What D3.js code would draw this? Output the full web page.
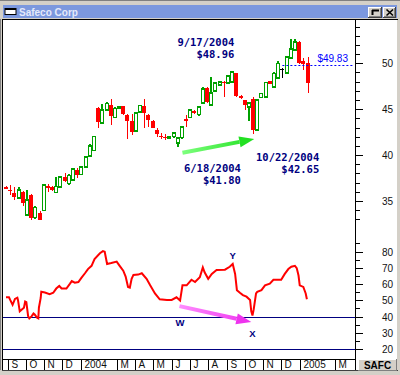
<!DOCTYPE html>
<html>
<head>
<meta charset="utf-8">
<script src="https://cdn.jsdelivr.net/npm/d3@7"></script>
<style>
html, body { margin: 0; padding: 0; background: #d4d0c8; }
svg { display: block; }
</style>
</head>
<body>
<svg id="chart" width="400" height="375"></svg>
<script>
// weekly bars, one per Friday, first one on this date
var firstBar = "2003-08-29";
var opens  = [36.5,36.2,35.9,35.3,36.0,33.5,35.7,33.2,33.7,33.95,36.6,36.5,35.95,36.5,37.6,36.9,37.3,38.4,37.9,38.7,39.9,40.5,45.1,43.5,44.9,45.5,44.1,45.1,45.3,44.4,43.7,42.6,44.7,45.3,44.4,43.7,42.7,42.1,42.0,41.85,42.0,41.3,41.9,43.9,44.1,44.8,44.4,45.7,47.3,45.45,47.0,47.65,48.0,47.85,47.95,48.9,46.45,46.0,45.25,46.1,42.75,46.3,46.35,48.05,47.4,48.4,49.3,48.95,50.6,51.45,52.3,50.2,50.0];
var highs  = [36.6,36.7,36.5,36.5,36.1,36.2,35.8,34.5,33.9,36.8,36.9,36.6,37.6,37.7,38.05,37.9,38.6,38.6,38.8,39.9,41.2,42.0,45.2,45.6,45.8,46.1,45.2,45.3,45.4,44.5,44.5,44.7,45.5,46.1,44.5,43.8,43.0,42.4,42.3,42.1,42.5,42.0,43.1,44.4,45.0,44.9,45.3,47.4,47.4,48.5,47.9,48.0,48.1,48.7,49.1,48.96,46.5,46.0,45.8,46.3,46.1,46.8,48.0,48.1,49.0,50.2,49.5,50.8,52.7,52.6,52.4,50.6,50.7];
var lows   = [36.3,35.6,35.1,35.2,34.45,33.4,32.95,33.0,32.9,33.9,36.0,36.1,35.9,36.4,37.1,36.75,37.2,37.5,37.8,38.6,39.8,40.4,42.9,43.4,44.8,43.3,44.0,45.0,44.4,41.75,42.2,42.5,44.6,42.95,43.05,42.9,41.95,41.8,41.6,41.8,41.9,40.9,41.8,43.1,44.0,44.5,44.3,45.6,45.7,45.3,46.9,47.6,46.3,47.8,47.9,46.3,46.1,44.9,43.75,42.3,42.65,46.2,46.3,47.7,47.3,48.3,48.4,48.9,50.5,51.4,49.9,49.3,46.8];
var closes = [36.35,36.1,35.4,36.2,34.8,35.1,33.2,34.3,32.95,36.75,36.5,36.2,36.6,37.6,37.2,37.8,38.5,37.8,38.7,39.8,41.0,42.0,43.6,44.9,45.6,44.3,45.1,45.25,44.5,43.7,42.55,44.6,45.4,44.55,43.8,42.95,42.3,42.0,41.95,42.05,42.4,41.85,43.05,43.8,44.9,44.6,45.25,47.2,45.8,46.75,47.85,47.95,47.8,48.6,49.05,46.4,46.2,45.5,45.65,42.75,46.0,46.7,47.9,47.75,48.9,50.0,49.3,50.7,51.55,52.3,50.0,49.9,47.85];
var lastPrice = 49.83;

// oscillator in the lower panel
var oscDates = ["2003-08-29","2003-09-03","2003-09-05","2003-09-09","2003-09-13","2003-09-17","2003-09-18","2003-09-21","2003-09-28","2003-09-30",
  "2003-10-02","2003-10-05","2003-10-07","2003-10-11","2003-10-14","2003-10-16","2003-10-20","2003-10-22","2003-10-23","2003-10-26",
  "2003-10-27","2003-11-02","2003-11-10","2003-11-16","2003-11-21","2003-11-26","2003-11-30","2003-12-08","2003-12-14","2003-12-17",
  "2003-12-22","2003-12-28","2004-01-02","2004-01-08","2004-01-13","2004-01-19","2004-01-24","2004-02-02","2004-02-07","2004-02-10",
  "2004-02-14","2004-02-21","2004-03-01","2004-03-06","2004-03-12","2004-03-16","2004-03-20","2004-03-23","2004-03-26","2004-03-29",
  "2004-04-06","2004-04-12","2004-04-20","2004-04-26","2004-05-04","2004-05-12","2004-05-24","2004-06-01","2004-06-09","2004-06-15",
  "2004-06-19","2004-06-26","2004-07-04","2004-07-10","2004-07-18","2004-07-23","2004-07-26","2004-08-01","2004-08-07","2004-08-15",
  "2004-08-29","2004-09-06","2004-09-11","2004-09-15","2004-09-18","2004-09-23","2004-09-28","2004-10-04","2004-10-10","2004-10-12",
  "2004-10-14","2004-10-16","2004-10-20","2004-10-22","2004-10-29","2004-11-04","2004-11-12","2004-11-18","2004-12-01","2004-12-07",
  "2004-12-13","2004-12-18","2004-12-24","2004-12-27","2004-12-30","2005-01-01","2005-01-07","2005-01-11","2005-01-13"];
var oscValues = [51.8,51.8,50.2,47.2,50.8,51.6,50.2,43.2,45.4,49.2,
  48.8,40.2,38.8,40.2,41.8,41.2,39.2,38.8,45.4,51.4,
  55.2,54.8,53.8,54.6,57.2,58.8,57.2,57.2,60.2,61.8,
  60.8,61.2,63.8,66.6,69.2,71.2,75.3,78.9,80.2,79.8,
  72.3,72.9,73.8,71.2,68.2,64.6,58.2,57.8,63.2,65.6,
  65.8,66.6,63.2,59.2,54.2,50.6,50.2,50.2,51.8,49.8,
  59.2,59.2,62.6,61.2,64.2,70.2,67.2,63.2,66.2,68.6,
  68.8,70.6,72.3,66.2,56.2,54.6,53.2,52.2,50.2,43.2,
  40.6,44.2,54.2,55.2,56.2,59.2,60.2,62.6,62.6,66.2,
  69.2,70.6,71.2,69.8,65.2,59.2,58.2,54.2,50.6];
var oscLines = [40, 20];

var monthDates  = ["2003-09-01","2003-10-01","2003-11-01","2003-12-01","2004-01-01","2004-03-01","2004-04-01","2004-05-01","2004-06-01","2004-07-01","2004-08-01","2004-09-01","2004-10-01","2004-11-01","2004-12-01","2005-01-01","2005-03-01"];
var monthLabels = ["S","O","N","D","2004","M","A","M","J","J","A","S","O","N","D","2005","M"];
var priceLabels = [35, 40, 45, 50];
var oscLabels   = [20, 30, 40, 50, 60, 70, 80];

var parse = d3.timeParse("%Y-%m-%d");
var start = parse(firstBar);
var bars = opens.map(function (o, i) {
    return { date: d3.timeDay.offset(start, 7 * i), o: o, h: highs[i], l: lows[i], c: closes[i] };
});
var osc = oscDates.map(function (d, i) { return { date: parse(d), v: oscValues[i] }; });

var W = 400, H = 375,
    plotLeft = 3, axisX = 355, plotTop = 20, stripTop = 359, bottom = 370;

var x = d3.scaleTime().domain([bars[0].date, bars[bars.length - 1].date]).range([6, 307.5]),
    y = d3.scaleLinear().domain([35, 50]).range([201, 63.3]),
    yo = d3.scaleLinear().domain([20, 40]).range([349, 316.5]);

var svg = d3.select("#chart");
var GREEN = "#00a000", RED = "#ff0000", NAVY = "#000080";

// ---- window frame ----
svg.append("rect").attr("width", W).attr("height", H).attr("fill", "#d4d0c8");
svg.append("rect").attr("x", 0).attr("y", 0).attr("width", W).attr("height", 1).attr("fill", "#808080");
svg.append("rect").attr("x", 3).attr("y", 5).attr("width", 394).attr("height", 13).attr("fill", "#7c98de");
svg.append("rect").attr("x", plotLeft).attr("y", plotTop).attr("width", 394).attr("height", bottom - plotTop).attr("fill", "#fff");
svg.append("rect").attr("x", 2).attr("y", 19).attr("width", 396).attr("height", 1).attr("fill", "#000");
svg.append("rect").attr("x", 2).attr("y", 19).attr("width", 1).attr("height", bottom - 19).attr("fill", "#000");
svg.append("rect").attr("x", 0).attr("y", 19).attr("width", 1).attr("height", bottom - 19).attr("fill", "#808080");
svg.append("rect").attr("x", 2).attr("y", bottom).attr("width", 396).attr("height", 1).attr("fill", "#404040");

// title bar icon, text and buttons
svg.append("rect").attr("x", 5).attr("y", 8.5).attr("width", 11).attr("height", 6).attr("fill", "#fff").attr("stroke", "#000");
svg.append("rect").attr("x", 5).attr("y", 8).attr("width", 11).attr("height", 2).attr("fill", "#000");
svg.append("text").attr("x", 19).attr("y", 15.5).text("Safeco Corp")
    .attr("font-family", "Liberation Sans, Arial, sans-serif").attr("font-weight", "bold")
    .attr("font-size", "10px").attr("fill", "#e4e9fa");

[[368, 14], [383, 13]].forEach(function (b) {
    var g = svg.append("g").attr("shape-rendering", "crispEdges");
    g.append("rect").attr("x", b[0]).attr("y", 7).attr("width", b[1]).attr("height", 11).attr("fill", "#404040");
    g.append("rect").attr("x", b[0]).attr("y", 7).attr("width", b[1] - 1).attr("height", 10).attr("fill", "#fff");
    g.append("rect").attr("x", b[0] + 1).attr("y", 8).attr("width", b[1] - 2).attr("height", 9).attr("fill", "#808080");
    g.append("rect").attr("x", b[0] + 1).attr("y", 8).attr("width", b[1] - 3).attr("height", 8).attr("fill", "#d4d0c8");
});
svg.append("path").attr("d", "M372,10.5H379M372.5,10V15").attr("stroke", "#000").attr("stroke-width", 2).attr("fill", "none");
svg.append("path").attr("d", "M386.5,9.5L393,15.5M393,9.5L386.5,15.5").attr("stroke", "#000").attr("stroke-width", 1.6);

// ---- plot clip ----
svg.append("clipPath").attr("id", "plot").append("rect")
    .attr("x", plotLeft).attr("y", plotTop).attr("width", axisX - plotLeft).attr("height", stripTop - plotTop);
var plot = svg.append("g").attr("clip-path", "url(#plot)");

// oscillator reference lines
plot.selectAll(".ref").data(oscLines).enter().append("line")
    .attr("x1", plotLeft).attr("x2", axisX)
    .attr("y1", function (d) { return Math.round(yo(d)) + 0.5; })
    .attr("y2", function (d) { return Math.round(yo(d)) + 0.5; })
    .attr("stroke", NAVY).attr("stroke-width", 1);

// candles
var cg = plot.append("g").attr("shape-rendering", "crispEdges");
bars.forEach(function (d) {
    var cx = Math.round(x(d.date)), top = Math.min(d.o, d.c), topY = y(Math.max(d.o, d.c)), botY = y(top);
    if (d.c > d.o) {
        cg.append("line").attr("x1", cx).attr("x2", cx).attr("y1", y(d.h)).attr("y2", topY)
            .attr("stroke", GREEN).attr("stroke-width", 1.5);
        cg.append("line").attr("x1", cx).attr("x2", cx).attr("y1", botY).attr("y2", y(d.l))
            .attr("stroke", GREEN).attr("stroke-width", 1.5);
        cg.append("rect").attr("x", cx - 1.5).attr("y", topY).attr("width", 3)
            .attr("height", Math.max(botY - topY, 1)).attr("fill", "#fff")
            .attr("stroke", GREEN).attr("stroke-width", 1.5);
    } else if (d.c < d.o) {
        cg.append("line").attr("x1", cx).attr("x2", cx).attr("y1", y(d.h)).attr("y2", y(d.l))
            .attr("stroke", RED).attr("stroke-width", 1);
        cg.append("rect").attr("x", cx - 2).attr("y", topY).attr("width", 4)
            .attr("height", Math.max(botY - topY, 1.5)).attr("fill", RED);
    } else {
        cg.append("line").attr("x1", cx).attr("x2", cx).attr("y1", y(d.h)).attr("y2", y(d.l))
            .attr("stroke", "#000").attr("stroke-width", 1);
        cg.append("line").attr("x1", cx - 2).attr("x2", cx + 2).attr("y1", y(d.o)).attr("y2", y(d.o))
            .attr("stroke", "#000").attr("stroke-width", 1);
    }
});

// last price marker
var lastY = Math.round(y(lastPrice)) + 0.5;
plot.append("line").attr("x1", x(bars[66].date)).attr("x2", axisX - 2)
    .attr("y1", lastY).attr("y2", lastY)
    .attr("stroke", "#0000ff").attr("stroke-dasharray", "2,2");
svg.append("text").attr("x", 348).attr("y", lastY - 4).attr("text-anchor", "end")
    .attr("font-family", "Liberation Sans, Arial, sans-serif").attr("font-size", "10px")
    .attr("fill", "#0000ff").text("$" + lastPrice.toFixed(2));

// oscillator line
plot.append("path").datum(osc)
    .attr("d", d3.line().x(function (d) { return x(d.date); }).y(function (d) { return yo(d.v); }))
    .attr("fill", "none").attr("stroke", RED).attr("stroke-width", 2);

// ---- annotations ----
function arrow(x1, y1, x2, y2, c1, c2, w, hl, hw, id) {
    var ang = Math.atan2(y2 - y1, x2 - x1), ux = Math.cos(ang), uy = Math.sin(ang),
        bx = x2 - ux * hl, by = y2 - uy * hl;
    var grad = svg.append("linearGradient").attr("id", id).attr("gradientUnits", "userSpaceOnUse")
        .attr("x1", x1).attr("y1", y1).attr("x2", x2).attr("y2", y2);
    grad.append("stop").attr("offset", 0).attr("stop-color", c1);
    grad.append("stop").attr("offset", 1).attr("stop-color", c2);
    svg.append("line").attr("x1", x1).attr("y1", y1).attr("x2", bx).attr("y2", by)
        .attr("stroke", "url(#" + id + ")").attr("stroke-width", w);
    svg.append("path").attr("fill", c2)
        .attr("d", "M" + x2 + "," + y2 + "L" + (bx - uy * hw) + "," + (by + ux * hw) +
              "L" + (bx + uy * hw) + "," + (by - ux * hw) + "Z");
}
arrow(x(parse("2004-06-19")), y(40.25), x(parse("2004-10-17")), y(41.75), "#7dff7d", "#22e022", 4, 15, 5.5, "ga");
arrow(x(parse("2004-06-14")), yo(46.4), x(parse("2004-10-12")), yo(36.6), "#ff8cff", "#ee33ee", 4, 15, 5.5, "ma");

var notes = [
    { date: "2004-09-17", price: 48.96, dx: -2, dy: -27 },
    { date: "2004-06-18", price: 41.80, dx: 59, dy: 33 },
    { date: "2004-10-22", price: 42.65, dx: 62, dy: 30 }
];
var fmt = d3.timeFormat("%-m/%-d/%Y");
notes.forEach(function (n) {
    var d = parse(n.date), tx = x(d) + n.dx, ty = y(n.price) + n.dy;
    [fmt(d), "$" + n.price.toFixed(2)].forEach(function (s, k) {
        svg.append("text").attr("x", tx).attr("y", ty + k * 12).attr("text-anchor", "end")
            .attr("font-family", "DejaVu Sans Mono, monospace").attr("font-weight", "bold")
            .attr("font-size", "10.5px").attr("fill", NAVY).text(s);
    });
});

var points = [
    { t: "Y", date: "2004-09-11", v: 72.3, dy: -5 },
    { t: "W", date: "2004-06-15", v: 49.8, dy: 25 },
    { t: "X", date: "2004-10-14", v: 40.6, dy: 21 }
];
points.forEach(function (p) {
    svg.append("text").attr("x", x(parse(p.date))).attr("y", yo(p.v) + p.dy).attr("text-anchor", "middle")
        .attr("font-family", "Liberation Sans, Arial, sans-serif").attr("font-weight", "bold")
        .attr("font-size", "9.5px").attr("fill", NAVY).text(p.t);
});

// ---- right axis ----
var ax = svg.append("g").attr("shape-rendering", "crispEdges");
ax.append("line").attr("x1", axisX + 0.5).attr("x2", axisX + 0.5).attr("y1", plotTop).attr("y2", bottom)
    .attr("stroke", "#000");
d3.range(33, 55).forEach(function (p) {
    var ty = Math.round(y(p)) + 0.5;
    ax.append("line").attr("x1", axisX).attr("x2", axisX + (p % 5 === 0 ? 8 : 5))
        .attr("y1", ty).attr("y2", ty).attr("stroke", "#000");
});
d3.range(20, 90, 5).forEach(function (v) {
    var ty = Math.round(yo(v)) + 0.5;
    ax.append("line").attr("x1", axisX).attr("x2", axisX + (v % 10 === 0 ? 8 : 5))
        .attr("y1", ty).attr("y2", ty).attr("stroke", "#000");
});
var labelFont = "Liberation Sans, Arial, sans-serif";
svg.selectAll(".pl").data(priceLabels).enter().append("text")
    .attr("x", 393).attr("y", function (d) { return y(d) + 4; }).attr("text-anchor", "end")
    .attr("font-family", labelFont).attr("font-size", "10px").attr("fill", "#111").text(function (d) { return d; });
svg.selectAll(".ol").data(oscLabels).enter().append("text")
    .attr("x", 393).attr("y", function (d) { return yo(d) + 4; }).attr("text-anchor", "end")
    .attr("font-family", labelFont).attr("font-size", "10px").attr("fill", "#111").text(function (d) { return d; });

// ---- bottom date strip ----
var st = svg.append("g").attr("shape-rendering", "crispEdges");
st.append("line").attr("x1", plotLeft).attr("x2", axisX).attr("y1", stripTop + 0.5).attr("y2", stripTop + 0.5)
    .attr("stroke", "#000");
monthDates.forEach(function (m, i) {
    var mx = Math.round(x(parse(m))) + 0.5;
    st.append("line").attr("x1", mx).attr("x2", mx).attr("y1", stripTop).attr("y2", bottom).attr("stroke", "#000");
    svg.append("text").attr("x", mx + 3).attr("y", 368).attr("font-family", labelFont)
        .attr("font-size", "10px").attr("fill", "#111").text(monthLabels[i]);
});

// symbol box
var sb = svg.append("g").attr("shape-rendering", "crispEdges");
sb.append("rect").attr("x", 358).attr("y", 359).attr("width", 39).attr("height", 12).attr("fill", "#808080");
sb.append("rect").attr("x", 358).attr("y", 359).attr("width", 38).attr("height", 11).attr("fill", "#fff");
sb.append("rect").attr("x", 359).attr("y", 360).attr("width", 37).attr("height", 10).attr("fill", "#d4d0c8");
svg.append("text").attr("x", 377.5).attr("y", 368.5).attr("text-anchor", "middle")
    .attr("font-family", labelFont).attr("font-weight", "bold").attr("font-size", "10px")
    .attr("fill", "#000").text("SAFC");
</script>
</body>
</html>
